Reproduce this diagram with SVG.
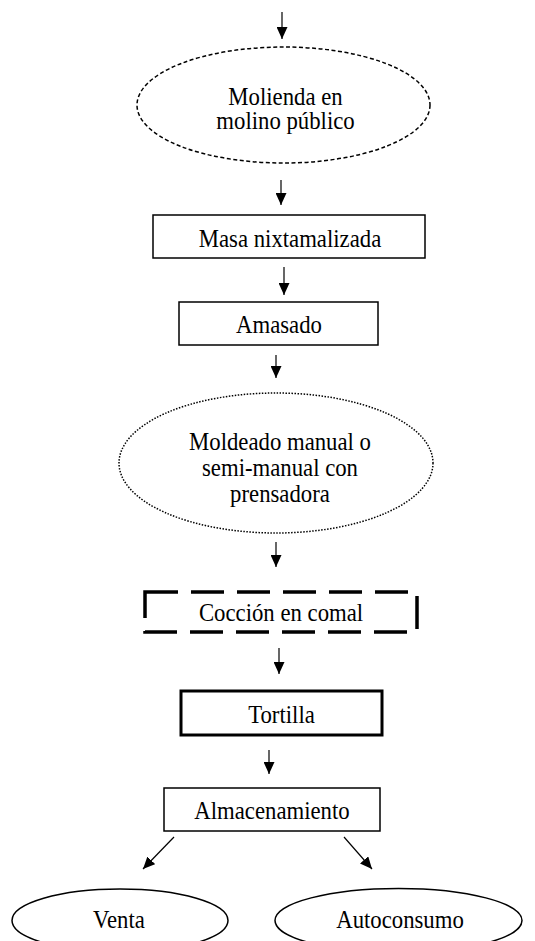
<svg xmlns="http://www.w3.org/2000/svg" width="535" height="941" viewBox="0 0 535 941">
<style>
text{font-family:"Liberation Serif","Times New Roman",serif;font-size:25px;fill:#000;text-anchor:middle}
.shape{fill:#fff;stroke:#000;stroke-width:1.5}
.dash{stroke-dasharray:4 2.5}
.dot{stroke-dasharray:1.5 1.5}
.thick{stroke-width:3}
.ldash{stroke-width:3.5;stroke-dasharray:33 13}
.conn{stroke:#000;stroke-width:1.2;fill:none;marker-end:url(#ah)}
</style>
<defs>
<marker id="ah" markerUnits="userSpaceOnUse" markerWidth="12" markerHeight="11" refX="12" refY="5.5" orient="auto">
<path d="M0,0 L12,5.5 L0,11 z" fill="#000"/>
</marker>
</defs>
<rect width="535" height="941" fill="#fff"/>
<g id="connectors">
<line class="conn" x1="282" y1="12" x2="282" y2="39"/>
<line class="conn" x1="281" y1="180" x2="281" y2="205"/>
<line class="conn" x1="284" y1="267" x2="284" y2="295"/>
<line class="conn" x1="276" y1="355" x2="276" y2="378"/>
<line class="conn" x1="276" y1="542" x2="276" y2="567"/>
<line class="conn" x1="279" y1="648" x2="279" y2="674"/>
<line class="conn" x1="269" y1="750" x2="269" y2="774"/>
<line class="conn" x1="174" y1="837" x2="143" y2="869"/>
<line class="conn" x1="344" y1="837" x2="372" y2="869"/>
</g>
<g id="molienda">
<ellipse class="shape dash" cx="283.5" cy="105" rx="146.5" ry="58"/>
<text transform="matrix(0.91 0 0 1 285.5 104.5)">Molienda en</text>
<text transform="matrix(0.91 0 0 1 285.5 129)">molino público</text>
</g>
<g id="masa">
<rect class="shape" x="153" y="215" width="272" height="43"/>
<text transform="matrix(0.91 0 0 1 290 246.5)">Masa nixtamalizada</text>
</g>
<g id="amasado">
<rect class="shape" x="179" y="302" width="199" height="43"/>
<text transform="matrix(0.91 0 0 1 279 333)">Amasado</text>
</g>
<g id="moldeado">
<ellipse class="shape dot" cx="276" cy="463" rx="157" ry="70"/>
<text transform="matrix(0.91 0 0 1 280 450)">Moldeado manual o</text>
<text transform="matrix(0.91 0 0 1 280 476)">semi-manual con</text>
<text transform="matrix(0.91 0 0 1 280 502)">prensadora</text>
</g>
<g id="coccion">
<rect class="shape ldash" x="145" y="592" width="272" height="40"/>
<text transform="matrix(0.91 0 0 1 281 621)">Cocción en comal</text>
</g>
<g id="tortilla">
<rect class="shape thick" x="181" y="691" width="201" height="44"/>
<text transform="matrix(0.91 0 0 1 281.5 723)">Tortilla</text>
</g>
<g id="almacenamiento">
<rect class="shape" x="164" y="788" width="216" height="43"/>
<text transform="matrix(0.91 0 0 1 272 819)">Almacenamiento</text>
</g>
<g id="venta">
<ellipse class="shape" cx="120" cy="920.5" rx="108" ry="31.5"/>
<text transform="matrix(0.91 0 0 1 119 928)">Venta</text>
</g>
<g id="autoconsumo">
<ellipse class="shape" cx="398.5" cy="920.5" rx="123.5" ry="32"/>
<text transform="matrix(0.91 0 0 1 400 928)">Autoconsumo</text>
</g>
</svg>
